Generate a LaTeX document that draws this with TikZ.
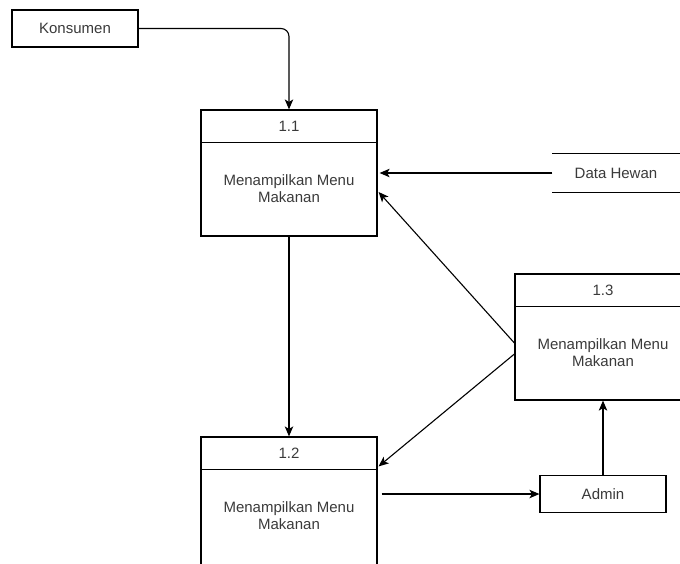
\documentclass[tikz,border=0pt]{standalone}
\usepackage{fontspec}
\setmainfont{Liberation Sans}
\usetikzlibrary{arrows.meta}
\definecolor{txtgray}{HTML}{3A3A3A}
\begin{document}
\begin{tikzpicture}[x=1pt,y=-1pt,
    font=\fontsize{15}{17}\selectfont,
    txt/.style={text=txtgray,inner sep=0pt},
    extbox/.style={draw,line width=1.2pt,minimum width=126pt,minimum height=37pt,text=txtgray},
    procbox/.style={draw,line width=1.2pt,minimum width=176pt,minimum height=126pt},
    flow/.style={draw,line width=1.1pt,-{Stealth[length=10pt,width=8.5pt,inset=2.5pt]}}]
  \clip (0,0) rectangle (680,563);
  \node[extbox] (ks) at (75,28.5) {Konsumen};
  \node[procbox] (p11) at (289,173) {};
  \node[procbox,minimum height=140pt] (p12) at (289,507) {};
  \node[procbox] (p13) at (603,337) {};
  \node[extbox] (adm) at (603,494) {Admin};
  \node[txt,minimum width=127pt,minimum height=38pt] (dh) at (616,173) {Data Hewan};
  \draw[line width=1.2pt] (dh.north west) -- (dh.north east)
    (dh.south west) -- (dh.south east);
  \foreach \p/\n in {p11/1.1,p12/1.2,p13/1.3}{
    \draw[line width=1.2pt] ([yshift=-33pt]\p.north west) -- ([yshift=-33pt]\p.north east);
    \node[txt] (\p-h) at ([yshift=-16.5pt]\p.north) {\n};
    \node[txt,align=center] (\p-b) at ([yshift=-63pt]\p-h) {Menampilkan Menu\\Makanan};
  }
  \begin{scope}[flow]
    \draw[rounded corners=8pt] (ks.east) -| (p11.north);
    \draw (p11.south) -- (p12.north);
    \draw (dh.west) -- ([xshift=2pt]p11.east);
    \draw ([yshift=-6pt]p13.west) -- ([xshift=1pt,yshift=-19pt]p11.east);
    \draw ([yshift=-17pt]p13.west) -- ([xshift=1pt,yshift=-30pt]p12.north east);
    \draw[shorten <=4pt] (p12.east |- adm.west) -- (adm.west);
    \draw (adm.north) -- (p13.south);
  \end{scope}
\end{tikzpicture}
\end{document}
